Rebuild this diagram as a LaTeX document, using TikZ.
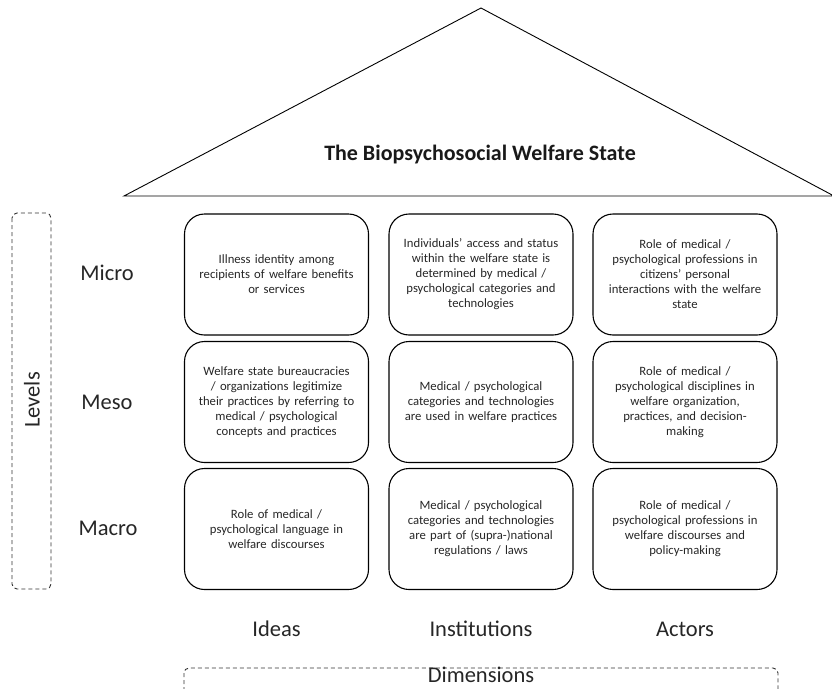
\documentclass[tikz,border=0pt]{standalone}
\usepackage{fontspec}
\setmainfont{Carlito}
\begin{document}
\begin{tikzpicture}[x=1pt,y=-1pt,
  cell/.style={draw=black,line width=1.1pt,rounded corners=20pt,
    minimum width=184pt,minimum height=121pt,inner sep=0pt,
    align=center,text width=176pt,text=black!85,
    font=\fontsize{12.7}{15}\selectfont},
  axislabel/.style={text=black!85,font=\fontsize{22.5}{26}\selectfont},
  framebox/.style={draw=black!80,line width=0.9pt,dashed,
    dash pattern=on 4pt off 3pt,rounded corners=5pt}]
\useasboundingbox (0,0) rectangle (832,688);

% roof
\coordinate (apex) at (481,8);
\coordinate (roofL) at (124,196);
\coordinate (roofR) at (834,196);
\draw[line width=0.9pt,line join=miter] (roofL) -- (apex) -- (roofR) -- cycle;
\node[font=\bfseries\fontsize{22}{24}\selectfont,text=black!90] (title) at (480,155) {The Biopsychosocial Welfare State};

% matrix of cells
\node[cell] (c11) at (276.5,274.5) {Illness identity among\\recipients of welfare benefits\\or services};
\node[cell] (c12) at (481,274.5) {Individuals’ access and status\\within the welfare state is\\determined by medical /\\psychological categories and\\technologies};
\node[cell] (c13) at (685,274.5) {Role of medical /\\psychological professions in\\citizens’ personal\\interactions with the welfare\\state};

\node[cell] (c21) at (276.5,402) {Welfare state bureaucracies\\/ organizations legitimize\\their practices by referring to\\medical / psychological\\concepts and practices};
\node[cell] (c22) at (481,402) {Medical / psychological\\categories and technologies\\are used in welfare practices};
\node[cell] (c23) at (685,402) {Role of medical /\\psychological disciplines in\\welfare organization,\\practices, and decision-\\making};

\node[cell] (c31) at (276.5,529) {Role of medical /\\psychological language in\\welfare discourses};
\node[cell] (c32) at (481,529) {Medical / psychological\\categories and technologies\\are part of (supra-)national\\regulations / laws};
\node[cell] (c33) at (685,529) {Role of medical /\\psychological professions in\\welfare discourses and\\policy-making};

% level labels
\node[axislabel] (micro) at (107,273) {Micro};
\node[axislabel] (meso) at (107,402) {Meso};
\node[axislabel] (macro) at (108,528) {Macro};
\draw[framebox] (12,213) rectangle (51,589);
\node[axislabel,rotate=90] (levels) at (32,400) {Levels};

% dimension labels
\node[axislabel] (ideas) at (276.5,629) {Ideas};
\node[axislabel] (inst) at (481,629) {Institutions};
\node[axislabel] (actors) at (685,629) {Actors};
\draw[framebox] (184,668) rectangle (778,705);
\node[axislabel,inner sep=0pt] (dims) at (481,675) {Dimensions};
\end{tikzpicture}
\end{document}
